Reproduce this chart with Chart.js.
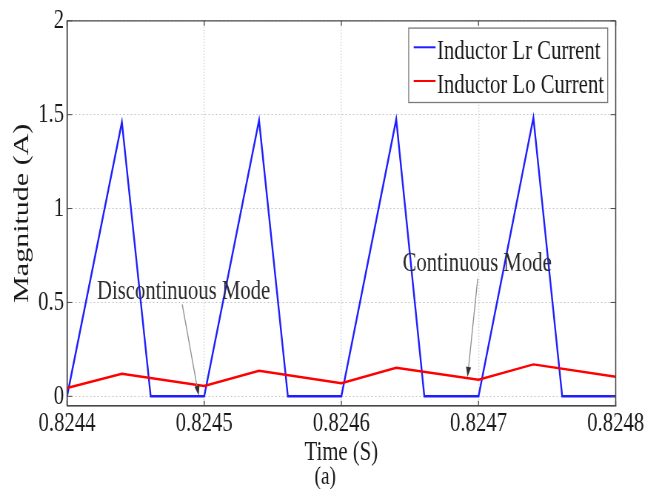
<!DOCTYPE html>
<html>
<head>
<meta charset="utf-8">
<title>Inductor currents</title>
<script src="https://cdn.jsdelivr.net/npm/chart.js@4.4.1/dist/chart.umd.min.js"></script>
<style>
  html, body { margin: 0; padding: 0; background: #fff; overflow: hidden; }
  /* the figure is drawn wide and squeezed horizontally, like the narrow serif of the scope export */
  #wrap { width: 890px; height: 489px; transform: scale(0.74045, 1); transform-origin: 0 0; }
</style>
</head>
<body>
<div id="wrap"><canvas id="waveChart" width="890" height="489"></canvas></div>
<script>
// --- waveform data (time in s, current in A) ---
const timeLr = [0.8244, 0.82444, 0.824461, 0.8245, 0.82454, 0.824561, 0.8246, 0.82464, 0.8246605, 0.8247, 0.82474, 0.824761, 0.8248];
const currentLr = [0, 1.46, 0, 0, 1.47, 0, 0, 1.475, 0, 0, 1.484, 0, 0];

const timeLo = [0.8244, 0.82444, 0.8245, 0.82454, 0.8246, 0.82464, 0.8247, 0.82474, 0.8248];
const currentLo = [0.044, 0.12, 0.055, 0.136, 0.07, 0.152, 0.088, 0.17, 0.104];

const seriesNames = ['Inductor Lr Current', 'Inductor Lo Current'];

const xTicks = [0.8244, 0.8245, 0.8246, 0.8247, 0.8248];
const yTicks = [0, 0.5, 1, 1.5, 2];

// --- annotation anchors, in data units ---
const noteText = ['Discontinuous Mode', 'Continuous Mode'];
const noteAt = [[0.824485, 0.52], [0.824699, 0.665]];
const arrowFrom = [[0.824484, 0.49], [0.8246994, 0.626]];
const arrowTo = [[0.824496, 0.004], [0.824692, 0.103]];

const captionText = '(a)';

const SERIF = '"Liberation Serif", "Times New Roman", serif';
const INK = '#1a1a1a';

function toPoints(xs, ys) {
    return xs.map((t, i) => ({ x: t, y: ys[i] }));
}

// box round the plot plus the small inward tick marks
const frameTicks = {
    id: 'frameTicks',
    afterDatasetsDraw(chart) {
        const { ctx, chartArea: a, scales: { x, y } } = chart;
        ctx.save();
        ctx.strokeStyle = '#4a4a4a';
        const seg = (x1, y1, x2, y2, w) => {
            ctx.lineWidth = w;
            ctx.beginPath();
            ctx.moveTo(x1, y1);
            ctx.lineTo(x2, y2);
            ctx.stroke();
        };
        xTicks.forEach(v => {
            const px = x.getPixelForValue(v);
            seg(px, a.bottom, px, a.bottom - 5, 1.35);
            seg(px, a.top, px, a.top + 5, 1.35);
        });
        yTicks.forEach(v => {
            const py = y.getPixelForValue(v);
            seg(a.left, py, a.left + 7, py, 1);
            seg(a.right, py, a.right - 7, py, 1);
        });
        seg(a.left, a.top, a.right, a.top, 1.2);
        seg(a.left, a.bottom, a.right, a.bottom, 1.2);
        seg(a.left, a.top, a.left, a.bottom, 1.5);
        seg(a.right, a.top, a.right, a.bottom, 1.5);
        ctx.restore();
    }
};

// text notes with arrows pointing at the valley of the Lo current
const modeNotes = {
    id: 'modeNotes',
    afterDatasetsDraw(chart) {
        const { ctx, scales: { x, y } } = chart;
        ctx.save();
        ctx.font = '28px ' + SERIF;
        ctx.textAlign = 'center';
        ctx.textBaseline = 'alphabetic';
        noteText.forEach((txt, i) => {
            ctx.fillStyle = '#2b2b2b';
            ctx.fillText(txt, x.getPixelForValue(noteAt[i][0]), y.getPixelForValue(noteAt[i][1]));

            const x1 = x.getPixelForValue(arrowFrom[i][0]);
            const y1 = y.getPixelForValue(arrowFrom[i][1]);
            const x2 = x.getPixelForValue(arrowTo[i][0]);
            const y2 = y.getPixelForValue(arrowTo[i][1]);
            const ang = Math.atan2(y2 - y1, x2 - x1);
            const len = 10, half = 3.5;
            const bx = x2 - len * Math.cos(ang), by = y2 - len * Math.sin(ang);

            ctx.strokeStyle = '#8c8c8c';
            ctx.lineWidth = 1.3;
            ctx.beginPath();
            ctx.moveTo(x1, y1);
            ctx.lineTo(bx, by);
            ctx.stroke();

            ctx.fillStyle = '#333';
            ctx.beginPath();
            ctx.moveTo(x2, y2);
            ctx.lineTo(bx + half * Math.sin(ang), by - half * Math.cos(ang));
            ctx.lineTo(bx - half * Math.sin(ang), by + half * Math.cos(ang));
            ctx.closePath();
            ctx.fill();
        });
        ctx.restore();
    }
};

// boxed legend in the top right corner of the plot, caption under the axis
const boxLegend = {
    id: 'boxLegend',
    afterDraw(chart) {
        const { ctx, chartArea: a } = chart;
        const sets = chart.data.datasets;
        ctx.save();
        ctx.font = '28px ' + SERIF;
        const textW = Math.max(...sets.map(d => ctx.measureText(d.label).width));
        const padL = 6.8, sample = 29.5, gap = 2, padR = 5;
        const w = padL + sample + gap + textW + padR;
        const h = 74.4;
        const left = a.right - 10.8 - w;
        const top = a.top + 7.3;

        ctx.fillStyle = '#fff';
        ctx.fillRect(left, top, w, h);
        ctx.strokeStyle = '#7a7a7a';
        ctx.lineWidth = 1.3;
        ctx.strokeRect(left, top, w, h);

        sets.forEach((d, i) => {
            const base = top + 30.7 + i * 33.7;
            ctx.strokeStyle = d.borderColor;
            ctx.lineWidth = 2;
            ctx.beginPath();
            ctx.moveTo(left + padL, base - 11.5);
            ctx.lineTo(left + padL + sample, base - 11.5);
            ctx.stroke();
            ctx.fillStyle = INK;
            ctx.textAlign = 'left';
            ctx.textBaseline = 'alphabetic';
            ctx.fillText(d.label, left + padL + sample + gap, base);
        });

        ctx.font = '26px ' + SERIF;
        ctx.fillStyle = INK;
        ctx.textAlign = 'center';
        ctx.textBaseline = 'middle';
        ctx.fillText(captionText, chart.width * 0.4935, chart.height - 11.5);
        ctx.restore();
    }
};

const ctx = document.getElementById('waveChart').getContext('2d');
const waveChart = new Chart(ctx, {
    type: 'line',
    data: {
        datasets: [{
            label: seriesNames[0],
            data: toPoints(timeLr, currentLr),
            borderColor: 'rgb(30, 30, 255)',
            borderWidth: 2.4,
            pointRadius: 0,
            tension: 0,
            order: 1
        }, {
            label: seriesNames[1],
            data: toPoints(timeLo, currentLo),
            borderColor: 'rgb(255, 0, 0)',
            borderWidth: 2.4,
            pointRadius: 0,
            tension: 0,
            order: 0
        }]
    },
    options: {
        responsive: false,
        animation: false,
        events: [],
        layout: {
            padding: { left: 0, right: 58.5, top: 20, bottom: 24 }
        },
        plugins: {
            legend: { display: false },
            tooltip: { enabled: false }
        },
        scales: {
            x: {
                type: 'linear',
                min: 0.8244,
                max: 0.8248,
                afterBuildTicks: s => { s.ticks = xTicks.map(v => ({ value: v })); },
                afterFit: s => { s.height = 59.3; },
                ticks: {
                    color: INK,
                    padding: 1,
                    maxRotation: 0,
                    font: { family: SERIF, size: 28, weight: 'normal' },
                    callback: v => Number(v).toFixed(4)
                },
                grid: { color: '#c4c4c4', lineWidth: 1.35, drawTicks: false },
                border: { display: true, color: '#4a4a4a', width: 1.5, dash: [1, 2] },
                title: {
                    display: true,
                    text: 'Time (S)',
                    color: INK,
                    font: { family: SERIF, size: 28, weight: 'normal', lineHeight: 1 },
                    padding: { top: 0, bottom: -2 }
                }
            },
            y: {
                min: -0.05,
                max: 2,
                afterBuildTicks: s => { s.ticks = yTicks.map(v => ({ value: v })); },
                afterFit: s => { s.width = 90.5; },
                ticks: {
                    color: INK,
                    padding: 4,
                    font: { family: SERIF, size: 28, weight: 'normal' },
                    callback: v => String(v)
                },
                grid: { color: '#c4c4c4', lineWidth: 1, drawTicks: false },
                border: { display: true, color: '#4a4a4a', width: 1.5, dash: [2, 3] },
                title: {
                    display: true,
                    text: 'Magnitude (A)',
                    color: INK,
                    font: { family: SERIF, size: 30, weight: 'normal', lineHeight: 1 },
                    padding: { top: 14.7, bottom: 0 }
                }
            }
        }
    },
    plugins: [frameTicks, modeNotes, boxLegend]
});
</script>
</body>
</html>
